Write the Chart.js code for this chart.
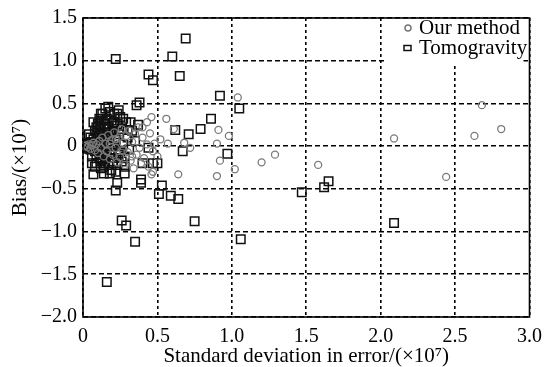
<!DOCTYPE html>
<html>
<head>
<meta charset="utf-8">
<script src="https://cdn.jsdelivr.net/npm/chart.js@4/dist/chart.umd.min.js"></script>
<style>
  html, body { margin: 0; padding: 0; background: #fff; }
  #wrap { width: 550px; height: 367px; }
</style>
</head>
<body>
<div id="wrap"><canvas id="myChart"></canvas></div>
<script>
const seriesNames = ['Our method', 'Tomogravity'];
const xTicks = [0, 0.5, 1.0, 1.5, 2.0, 2.5, 3.0];
const yTicks = [-2.0, -1.5, -1.0, -0.5, 0, 0.5, 1.0, 1.5];

// Our method: [std deviation, bias] (x 10^7)
const ourMethod = [
    [1.04, 0.57], [1.29, -0.10], [1.58, -0.22], [2.09, 0.09], [2.44, -0.36],
    [2.63, 0.12], [2.68, 0.48], [2.81, 0.20], [1.20, -0.19], [0.91, 0.19],
    [0.98, 0.12], [0.90, 0.03], [0.92, -0.17], [1.02, -0.27], [0.90, -0.35],
    [0.64, -0.33], [0.68, 0.04], [0.61, 0.20], [0.56, 0.32], [0.46, 0.34],
    [0.43, 0.28], [0.40, 0.22], [0.48, 0.03], [0.57, 0.03], [0.46, -0.33],
    [0.47, -0.30], [0.72, -0.02], [0.52, 0.08],
    [0.01, 0.00], [0.02, 0.01], [0.03, -0.01], [0.04, 0.02], [0.05, -0.03],
    [0.06, 0.01], [0.07, 0.04], [0.08, -0.05], [0.09, 0.02], [0.10, -0.08],
    [0.11, 0.06], [0.12, -0.02], [0.13, 0.10], [0.14, -0.12], [0.15, 0.03],
    [0.16, -0.06], [0.17, 0.13], [0.18, -0.15], [0.19, 0.07], [0.20, -0.10],
    [0.21, 0.16], [0.22, -0.02], [0.23, -0.19], [0.24, 0.10], [0.25, -0.13],
    [0.26, 0.20], [0.27, 0.04], [0.28, -0.22], [0.29, 0.12], [0.30, -0.07],
    [0.31, 0.18], [0.32, -0.17], [0.33, 0.05], [0.34, -0.26], [0.35, 0.14],
    [0.36, -0.10], [0.37, 0.22], [0.38, -0.02], [0.39, -0.20], [0.40, 0.10],
    [0.41, -0.14], [0.43, 0.02], [0.44, -0.24], [0.45, 0.15], [0.47, -0.06],
    [0.50, -0.12], [0.33, -0.12], [0.27, -0.05], [0.22, 0.08], [0.18, 0.03]
];

// Tomogravity: [std deviation, bias] (x 10^7)
const tomogravity = [
    [0.22, 1.02], [0.69, 1.26], [0.60, 1.05], [0.65, 0.82], [0.44, 0.84],
    [0.47, 0.77], [0.92, 0.59], [1.05, 0.44], [0.36, 0.48], [0.38, 0.51],
    [0.86, 0.32], [0.79, 0.20], [0.71, 0.14], [0.62, 0.19], [0.67, -0.06],
    [0.97, -0.09], [0.44, -0.02], [0.40, -0.20], [0.47, -0.20], [0.50, -0.20],
    [0.39, -0.39], [0.39, -0.43], [0.23, -0.43], [0.22, -0.52], [0.53, -0.46],
    [0.51, -0.56], [0.59, -0.58], [0.64, -0.62], [0.75, -0.88], [1.06, -1.09],
    [0.26, -0.87], [0.29, -0.93], [0.35, -1.12], [0.16, -1.59], [1.47, -0.54],
    [1.62, -0.48], [1.65, -0.41], [2.09, -0.90],
    [0.06, -0.20], [0.08, -0.24], [0.18, -0.32], [0.07, -0.33], [0.28, -0.24],
    [0.28, -0.32], [0.17, 0.46], [0.12, 0.38], [0.23, 0.38], [0.27, 0.32],
    [0.32, 0.28], [0.07, 0.28], [0.37, 0.25], [0.30, 0.19], [0.04, 0.14],
    [0.01, 0.00], [0.02, 0.02], [0.02, -0.02], [0.03, 0.01], [0.03, -0.03],
    [0.04, 0.03], [0.04, -0.01], [0.05, 0.02], [0.05, -0.04], [0.06, 0.00],
    [0.06, 0.05], [0.07, -0.03], [0.07, 0.08], [0.08, -0.06], [0.08, 0.02],
    [0.09, 0.10], [0.09, -0.10], [0.10, 0.04], [0.10, -0.05], [0.11, 0.14],
    [0.11, -0.13], [0.12, 0.00], [0.12, 0.20], [0.12, -0.18], [0.13, 0.08],
    [0.13, -0.08], [0.14, 0.26], [0.14, -0.24], [0.15, 0.16], [0.15, -0.12],
    [0.16, 0.04], [0.16, 0.32], [0.17, -0.20], [0.17, 0.22], [0.18, 0.10],
    [0.18, -0.05], [0.19, 0.30], [0.19, -0.28], [0.20, 0.18], [0.20, 0.00],
    [0.21, -0.14], [0.21, 0.38], [0.22, 0.08], [0.23, 0.26], [0.23, -0.22],
    [0.24, 0.14], [0.25, -0.06], [0.25, 0.34], [0.26, 0.20], [0.27, 0.02],
    [0.28, -0.12], [0.29, 0.28], [0.30, 0.10], [0.31, -0.04], [0.33, 0.18],
    [0.35, 0.06], [0.05, 0.10], [0.06, -0.12], [0.08, 0.18], [0.09, -0.20],
    [0.10, 0.26], [0.11, 0.32], [0.13, 0.38], [0.15, 0.44], [0.12, -0.26],
    [0.14, -0.32], [0.16, -0.10], [0.17, 0.12], [0.18, 0.40], [0.20, -0.20],
    [0.22, -0.30], [0.24, 0.42], [0.26, -0.18], [0.20, 0.27], [0.16, 0.20],
    [0.18, -0.14], [0.14, 0.06], [0.13, -0.16], [0.10, 0.16], [0.09, 0.22],
    [0.11, 0.24], [0.15, 0.30], [0.19, 0.16], [0.21, 0.24], [0.15, -0.20],
    [0.19, -0.08], [0.24, -0.10], [0.13, 0.14], [0.17, 0.02], [0.12, 0.30]
];

const toPoints = arr => arr.map(([x, y]) => ({ x, y }));
const fmt = v => v === 0 ? '0' : (v < 0 ? '\u2212' + Math.abs(v).toFixed(1) : v.toFixed(1));
const serif = 'Liberation Serif';

// legend in the top right corner of the plot, on a white box
const boxLegend = {
    id: 'boxLegend',
    afterDatasetsDraw(chart) {
        const { ctx, chartArea } = chart;
        ctx.save();
        ctx.fillStyle = '#fff';
        ctx.fillRect(386, chartArea.top + 1, chartArea.right - 6 - 386, 46);
        ctx.font = '21px "' + serif + '"';
        ctx.fillStyle = '#000';
        ctx.textBaseline = 'middle';
        ctx.fillText(seriesNames[0], 419, 28);
        ctx.fillText(seriesNames[1], 419, 48);
        ctx.lineWidth = 1.5;
        ctx.strokeStyle = '#777';
        ctx.beginPath();
        ctx.arc(408, 28, 3, 0, Math.PI * 2);
        ctx.stroke();
        ctx.strokeStyle = '#111';
        ctx.strokeRect(404, 45.5, 7, 5);
        // frame
        ctx.strokeStyle = '#000';
        ctx.lineWidth = 1.6;
        ctx.strokeRect(chartArea.left, chartArea.top, chartArea.right - chartArea.left, chartArea.bottom - chartArea.top);
        ctx.restore();
    }
};

const ctx = document.getElementById('myChart');

new Chart(ctx, {
    type: 'scatter',
    data: {
        datasets: [{
            label: seriesNames[0],
            data: toPoints(ourMethod),
            pointStyle: 'circle',
            pointRadius: 3.5,
            borderColor: '#7a7a7a',
            backgroundColor: 'rgba(0,0,0,0)',
            borderWidth: 1.3
        }, {
            label: seriesNames[1],
            data: toPoints(tomogravity),
            pointStyle: 'rect',
            pointRadius: 6,
            borderColor: '#111',
            backgroundColor: 'rgba(0,0,0,0)',
            borderWidth: 1.5
        }]
    },
    options: {
        responsive: true,
        maintainAspectRatio: false,
        animation: false,
        layout: { padding: { top: 14, right: 13, left: 0, bottom: 0 } },
        plugins: {
            legend: { display: false },
            tooltip: { enabled: false }
        },
        scales: {
            x: {
                type: 'linear',
                min: 0,
                max: 3,
                afterBuildTicks: scale => { scale.ticks = xTicks.map(v => ({ value: v })); },
                afterFit: scale => { scale.height = 50; },
                ticks: {
                    callback: v => fmt(v),
                    color: '#000',
                    padding: 8,
                    maxRotation: 0,
                    font: { family: serif, size: 20 }
                },
                grid: { color: '#000', lineWidth: 1.6, drawTicks: false },
                border: { display: false, dash: [3, 3] },
                title: {
                    display: true,
                    text: 'Standard deviation in error/(\u00d710\u2077)',
                    color: '#000',
                    padding: 0,
                    font: { family: serif, size: 21, lineHeight: 1 }
                }
            },
            y: {
                type: 'linear',
                min: -2,
                max: 1.5,
                afterBuildTicks: scale => { scale.ticks = yTicks.map(v => ({ value: v })); },
                afterFit: scale => { scale.width = 83; },
                ticks: {
                    callback: v => fmt(v),
                    color: '#000',
                    padding: 6,
                    font: { family: serif, size: 20 }
                },
                grid: { color: '#000', lineWidth: 1.6, drawTicks: false },
                border: { display: false, dash: [5, 3] },
                title: {
                    display: true,
                    text: 'Bias/(\u00d710\u2077)',
                    color: '#000',
                    padding: 8,
                    font: { family: serif, size: 21 }
                }
            }
        }
    },
    plugins: [boxLegend]
});
</script>
</body>
</html>
